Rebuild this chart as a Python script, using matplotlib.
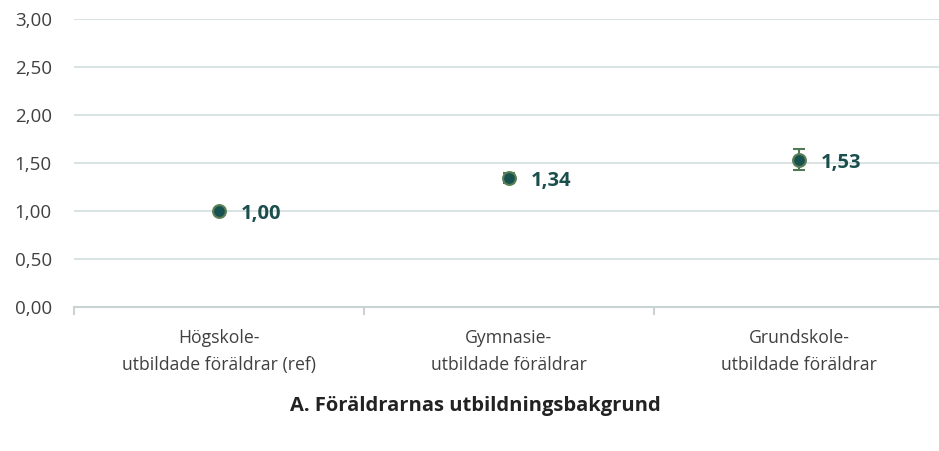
import numpy as np
import matplotlib
matplotlib.use("Agg")
import matplotlib.pyplot as plt

plt.rcParams["font.family"] = ["Open Sans", "DejaVu Sans"]

# Données
categories = ["Högskole-\nutbildade föräldrar (ref)",
              "Gymnasie-\nutbildade föräldrar",
              "Grundskole-\nutbildade föräldrar"]
values = [1.00, 1.34, 1.53]
ci_low = [1.00, 1.29, 1.43]
ci_high = [1.00, 1.40, 1.65]
labels = ["1,00", "1,34", "1,53"]
yticks = [0.0, 0.5, 1.0, 1.5, 2.0, 2.5, 3.0]
title = "A. Föräldrarnas utbildningsbakgrund"

fig = plt.figure(figsize=(9.39, 4.51), dpi=100)
ax = fig.add_axes([74 / 939, (451 - 307) / 451, 870 / 939, 288 / 451])

x = np.arange(len(categories)) + 0.5
v = np.array(values)
err = [v - np.array(ci_low), np.array(ci_high) - v]

ax.errorbar(x, v, yerr=err, fmt="none", ecolor="#4f7a55", elinewidth=1.5,
            capsize=4, capthick=1.5, zorder=3)
ax.scatter(x, v, s=85, color="#16524f", edgecolors="#5a7f55", linewidths=1.5,
           zorder=4)

for xi, vi, lab in zip(x, v, labels):
    ax.annotate(lab, (xi, vi), xytext=(16, -2), textcoords="offset points",
                ha="left", va="center", fontsize=14.5, fontweight="bold",
                color="#1a4f4d")

ax.set_xlim(0, 3)
ax.set_ylim(0, 3)
ax.set_yticks(yticks)
ax.set_yticklabels([f"{t:.2f}".replace(".", ",") for t in yticks])
ax.grid(axis="y", color="#d3dede", linewidth=1.2)
ax.set_axisbelow(True)

for s in ["top", "right", "left"]:
    ax.spines[s].set_visible(False)
ax.spines["bottom"].set_color("#c9d3d3")
ax.spines["bottom"].set_linewidth(1.5)

ax.set_xticks([0, 1, 2, 3])
ax.set_xticklabels([])
ax.set_xticks(x, minor=True)
ax.set_xticklabels(categories, minor=True, fontsize=12.7, color="#404040",
                   linespacing=1.65)
ax.tick_params(axis="x", which="major", length=6, width=1.5, color="#c9d3d3",
               direction="out")
ax.tick_params(axis="x", which="minor", length=0, pad=16)
ax.tick_params(axis="y", length=0, labelsize=13.5, labelcolor="#404040", pad=16)

fig.text(475 / 939, 1 - 406 / 451, title, ha="center", va="center",
         fontsize=14.5, fontweight="bold", color="#222222")

fig.savefig("out.png", dpi=100)
